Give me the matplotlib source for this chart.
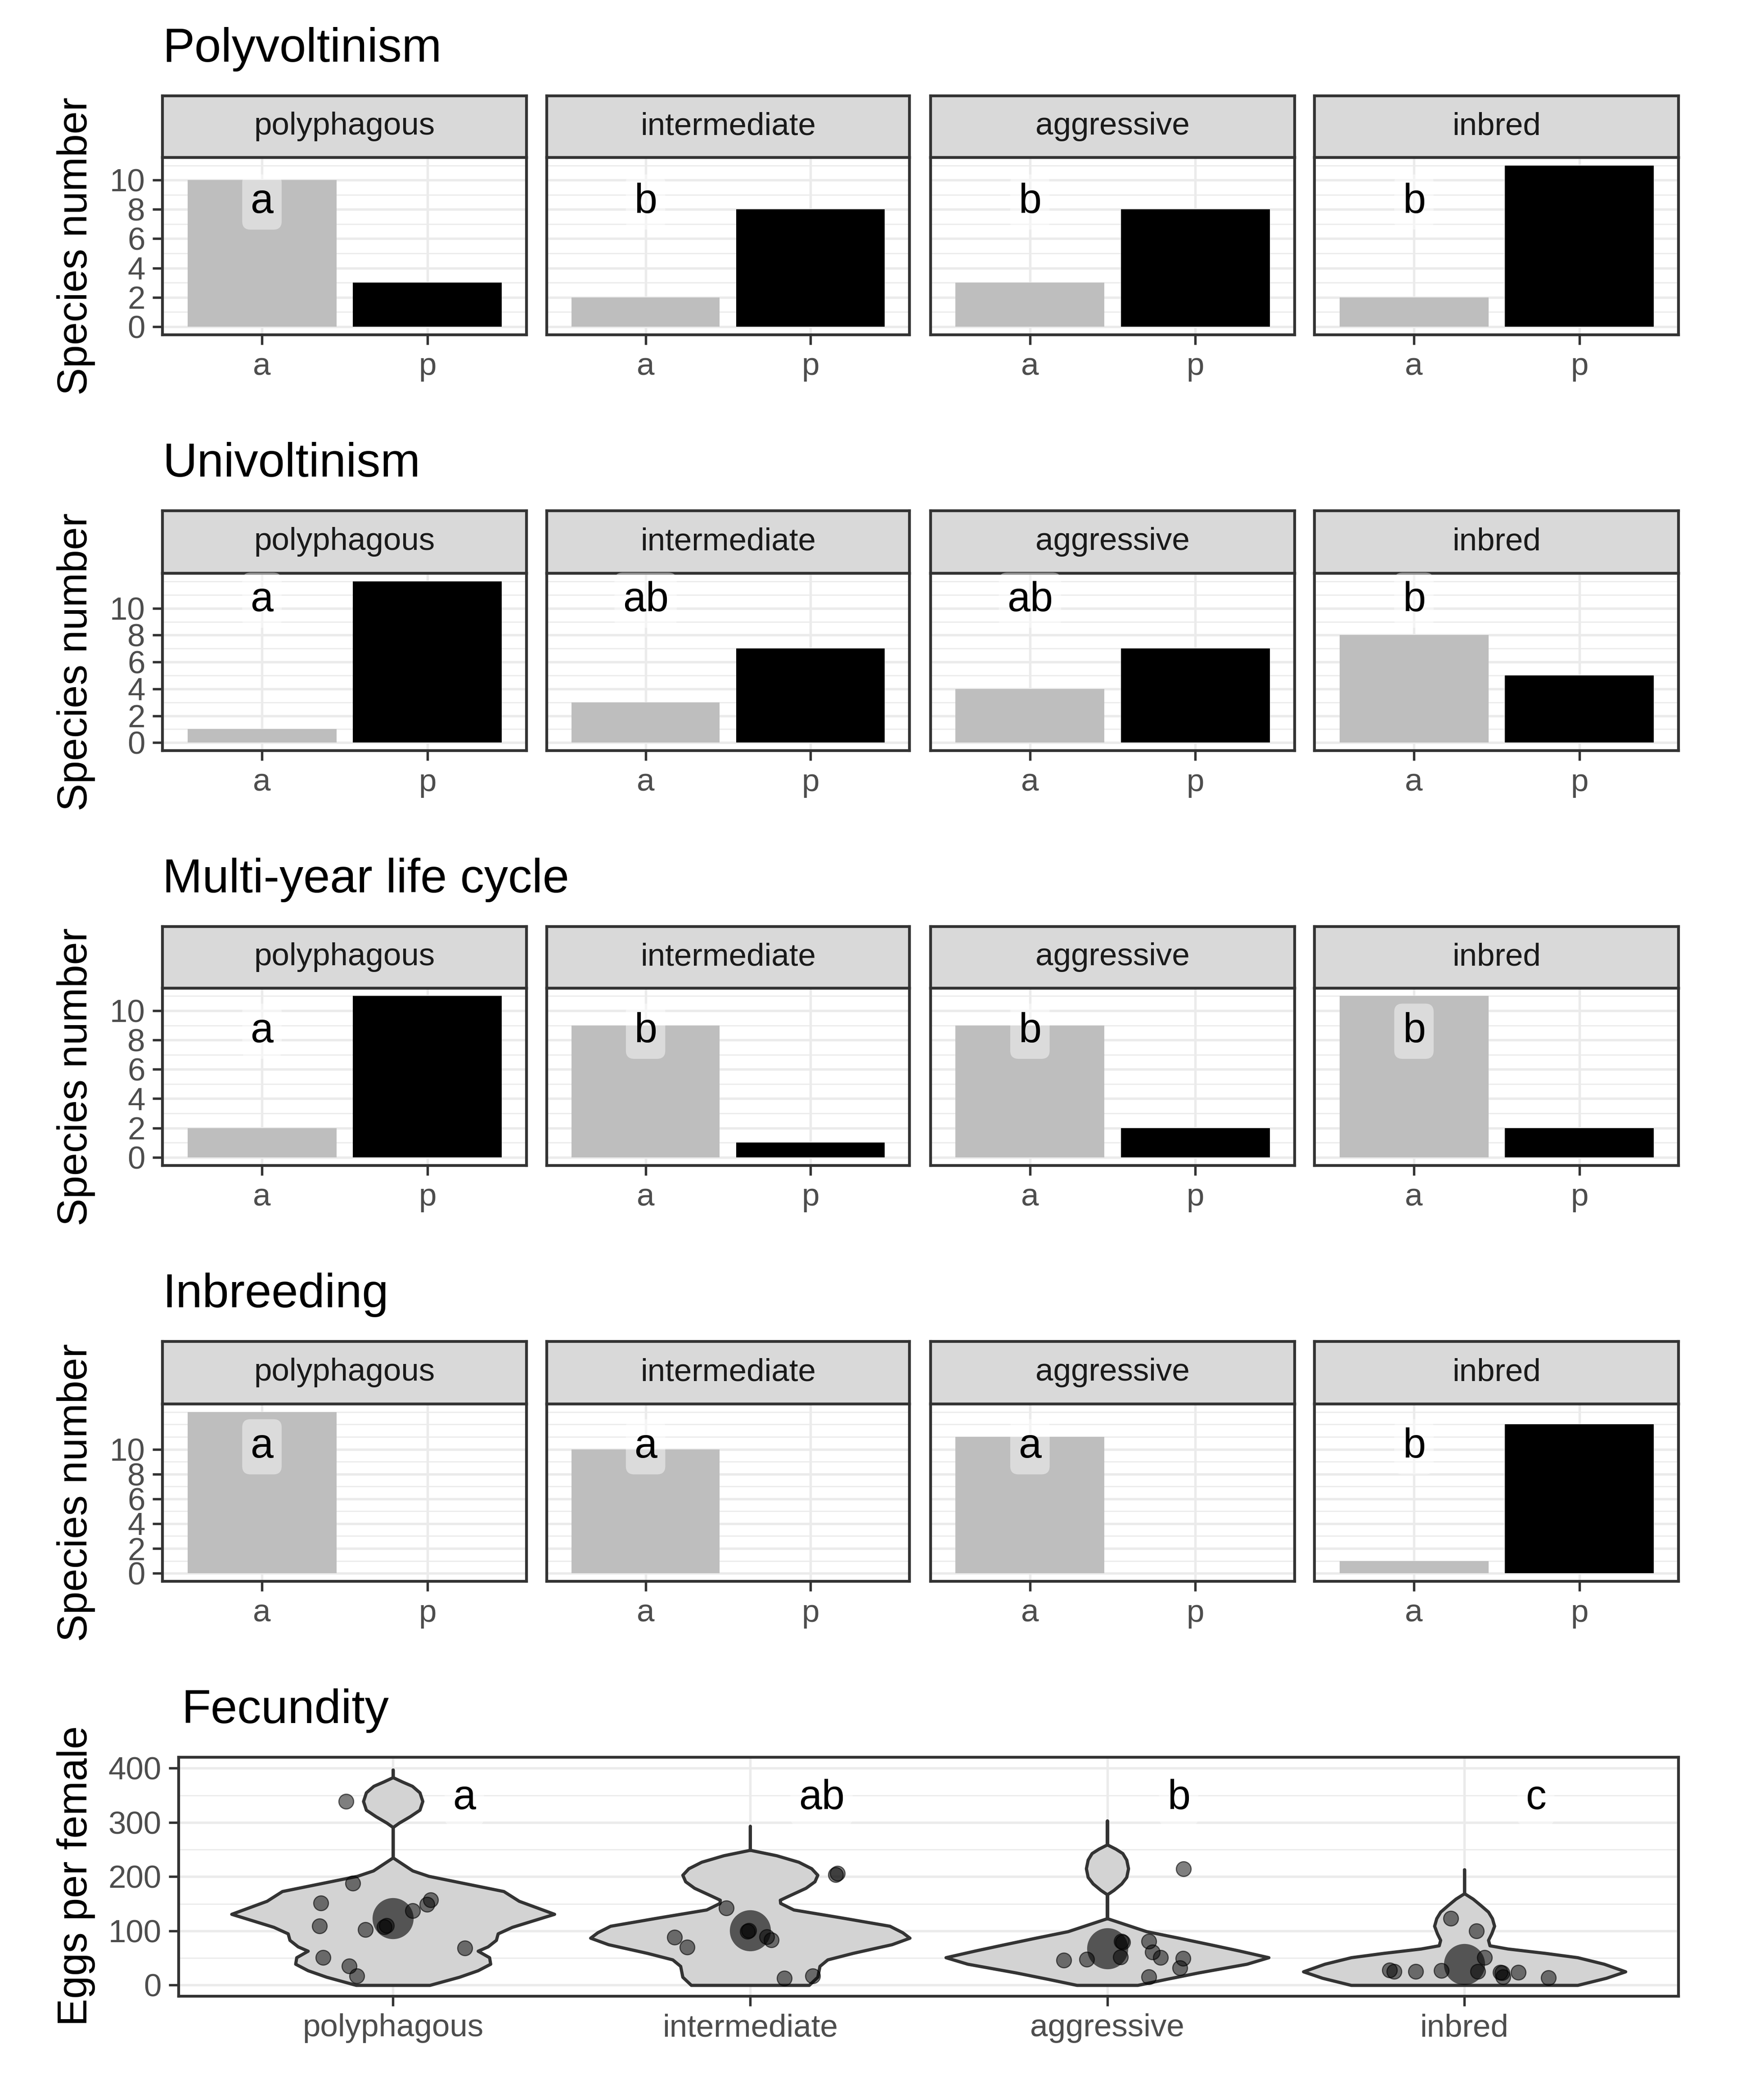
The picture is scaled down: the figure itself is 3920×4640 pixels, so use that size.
import numpy as np
import matplotlib.pyplot as plt
from matplotlib.ticker import FixedLocator, MultipleLocator

plt.rcParams['font.family'] = ['Liberation Sans', 'DejaVu Sans']

# bar data: species number per guild, a / p
guilds = ['polyphagous', 'intermediate', 'aggressive', 'inbred']
groups = ['a', 'p']
titles = ['Polyvoltinism', 'Univoltinism', 'Multi-year life cycle', 'Inbreeding']
polyvolt_a = [10, 2, 3, 2]
polyvolt_p = [3, 8, 8, 11]
univolt_a = [1, 3, 4, 8]
univolt_p = [12, 7, 7, 5]
multiyear_a = [2, 9, 9, 11]
multiyear_p = [11, 1, 2, 2]
inbreed_a = [13, 10, 11, 1]
inbreed_p = [0, 0, 0, 12]
letters_polyvolt = ['a', 'b', 'b', 'b']
letters_univolt = ['a', 'ab', 'ab', 'b']
letters_multiyear = ['a', 'b', 'b', 'b']
letters_inbreed = ['a', 'a', 'a', 'b']
letter_y = [8.5, 10.6, 8.6, 10.2]

# fecundity: points (jitter offset, eggs per female)
poly_dx = [-0.131, -0.112, -0.202, -0.206, -0.077, -0.024, -0.018, 0.055, 0.096, 0.106, 0.201, -0.195, -0.123, -0.101]
poly_eggs = [339, 188, 151, 109, 102, 107, 110, 137, 149, 157, 68, 51, 35, 17]
inter_dx = [0.239, 0.245, -0.067, -0.008, -0.004, 0.047, 0.059, -0.211, -0.176, 0.096, 0.175]
inter_eggs = [204, 206, 142, 99, 101, 89, 83, 88, 70, 13, 17]
aggr_dx = [0.213, -0.122, -0.057, 0.044, 0.040, 0.037, 0.117, 0.126, 0.149, 0.212, 0.203, 0.116]
aggr_eggs = [214, 46, 48, 79, 81, 52, 81, 61, 51, 49, 32, 15]
inbr_dx = [-0.038, 0.034, 0.056, -0.209, -0.197, -0.136, -0.065, 0.037, 0.105, 0.100, 0.108, 0.151, 0.236]
inbr_eggs = [123, 100, 51, 28, 25, 25, 27, 25, 23, 24, 15, 24, 14]
fec_letters = ['a', 'ab', 'b', 'c']
fec_letter_y = 345

# violin outlines (value, half width)
poly_vy = [397, 383, 375, 367, 355, 339, 323, 311, 299, 291, 235, 211, 201, 189, 173, 155, 131, 107, 95, 83, 71, 63, 51, 39, 27, 15, 0]
poly_vw = [0, 0, .026, .054, .075, .083, .075, .048, .017, 0, 0, .055, .10, .19, .31, .353, .452, .334, .294, .289, .266, .238, .27, .273, .238, .186, .103]
inter_vy = [293, 249, 239, 227, 215, 203, 191, 179, 165, 157, 151, 139, 125, 109, 97, 87, 75, 59, 47, 35, 15, 0]
inter_vw = [0, 0, .074, .136, .172, .189, .181, .156, .11, .084, .085, .122, .25, .391, .427, .447, .397, .288, .217, .195, .189, .165]
aggr_vy = [303, 259, 251, 243, 231, 215, 199, 187, 175, 167, 123, 111, 99, 87, 75, 63, 51, 39, 23, 11, 0]
aggr_vw = [0, 0, .024, .043, .054, .059, .054, .040, .018, 0, 0, .055, .11, .20, .287, .372, .452, .391, .256, .165, .085]
inbr_vy = [213, 169, 159, 147, 135, 123, 109, 95, 83, 73, 67, 59, 51, 39, 25, 13, 0]
inbr_vw = [0, 0, .024, .046, .067, .078, .084, .076, .067, .071, .122, .226, .317, .391, .451, .397, .317]

bar_a = [polyvolt_a, univolt_a, multiyear_a, inbreed_a]
bar_p = [polyvolt_p, univolt_p, multiyear_p, inbreed_p]
bar_letters = [letters_polyvolt, letters_univolt, letters_multiyear, letters_inbreed]
fec_dx = [poly_dx, inter_dx, aggr_dx, inbr_dx]
fec_eggs = [poly_eggs, inter_eggs, aggr_eggs, inbr_eggs]
fec_vy = [poly_vy, inter_vy, aggr_vy, inbr_vy]
fec_vw = [poly_vw, inter_vw, aggr_vw, inbr_vw]

# style
grid_col = '#EBEBEB'
dark = '#333333'
tick_col = '#4D4D4D'
fs_tick = 17
fs_title = 25.5
fs_lab = 22
fs_letter = 22
label_box = dict(boxstyle='round,pad=0.2', fc=(1, 1, 1, 0.45), ec='none')

fig = plt.figure(figsize=(3920 / 300, 4640 / 300), dpi=300)
W, H = 1323, 1566


def add_ax(x0, y0, x1, y1):
    return fig.add_axes([x0 / W, 1 - y1 / H, (x1 - x0) / W, (y1 - y0) / H])


def style_panel(ax):
    for s in ax.spines.values():
        s.set_color(dark)
        s.set_linewidth(1.5)
    ax.tick_params(which='major', direction='out', length=5.3, width=1.3, color=dark,
                   labelcolor=tick_col, labelsize=fs_tick, pad=4)
    ax.tick_params(which='minor', length=0)
    ax.grid(which='major', color=grid_col, lw=1.3, zorder=0)
    ax.grid(which='minor', axis='y', color=grid_col, lw=0.65, zorder=0)
    ax.set_axisbelow(True)


cols = [(122, 395), (410, 682), (698, 971), (986, 1259)]
rows = [(72, 118, 251), (383, 430, 563), (695, 741, 874), (1006, 1053, 1186)]

for r in range(4):
    st, pt, pb = rows[r]
    ymax = max(bar_a[r] + bar_p[r])
    for c in range(4):
        x0, x1 = cols[c]
        # strip
        sa = add_ax(x0, st, x1, pt)
        sa.set_facecolor('#D9D9D9')
        sa.set_xticks([])
        sa.set_yticks([])
        for s in sa.spines.values():
            s.set_color(dark)
            s.set_linewidth(1.5)
        sa.text(0.5, 0.5, guilds[c], ha='center', va='center', fontsize=fs_tick,
                color='#1A1A1A', transform=sa.transAxes)
        # panel
        ax = add_ax(x0, pt, x1, pb)
        ax.bar([1, 2], [bar_a[r][c], bar_p[r][c]], width=0.9, color=['#BEBEBE', 'black'], zorder=2)
        ax.set_xlim(0.4, 2.6)
        ax.set_ylim(-0.05 * ymax, 1.05 * ymax)
        ax.set_xticks([1, 2])
        ax.set_xticklabels(groups)
        ax.yaxis.set_major_locator(FixedLocator([0, 2, 4, 6, 8, 10]))
        ax.yaxis.set_minor_locator(MultipleLocator(1))
        style_panel(ax)
        if c > 0:
            ax.tick_params(axis='y', which='both', left=False, labelleft=False)
        ax.text(1, letter_y[r], bar_letters[r][c], ha='center', va='center',
                fontsize=fs_letter, color='black', bbox=label_box, zorder=3)
    fig.text(122 / W, 1 - (st - 35) / H, titles[r], ha='left', va='center', fontsize=fs_title)
    fig.text(57 / W, 1 - (pt + pb) / 2 / H, 'Species number', ha='center', va='center',
             rotation=90, fontsize=fs_lab)

# fecundity violins
ax5 = add_ax(134, 1318, 1259, 1497)
for i in range(4):
    x = i + 1
    vy = np.array(fec_vy[i])
    vw = np.array(fec_vw[i])
    ax5.fill_betweenx(vy, x - vw, x + vw, facecolor='#D3D3D3', edgecolor=dark, lw=1.7, zorder=2)
    ax5.scatter(x, np.mean(fec_eggs[i]), s=480, color='black', alpha=0.6, lw=0, zorder=3)
    ax5.scatter(x + np.array(fec_dx[i]), fec_eggs[i], s=62, facecolor=(0, 0, 0, 0.5),
                edgecolor=(0, 0, 0, 0.6), lw=0.6, zorder=4)
    ax5.text(x + 0.2, fec_letter_y, fec_letters[i], ha='center', va='center',
             fontsize=fs_letter, color='black', bbox=label_box, zorder=5)
ax5.set_xlim(0.4, 4.6)
ax5.set_ylim(-20, 420)
ax5.set_xticks([1, 2, 3, 4])
ax5.set_xticklabels(guilds)
ax5.yaxis.set_major_locator(FixedLocator([0, 100, 200, 300, 400]))
ax5.yaxis.set_minor_locator(MultipleLocator(50))
style_panel(ax5)
fig.text(136 / W, 1 - 1283 / H, 'Fecundity', ha='left', va='center', fontsize=fs_title)
fig.text(57 / W, 1 - 1407 / H, 'Eggs per female', ha='center', va='center',
         rotation=90, fontsize=fs_lab)

fig.savefig('out.png', dpi=300)
